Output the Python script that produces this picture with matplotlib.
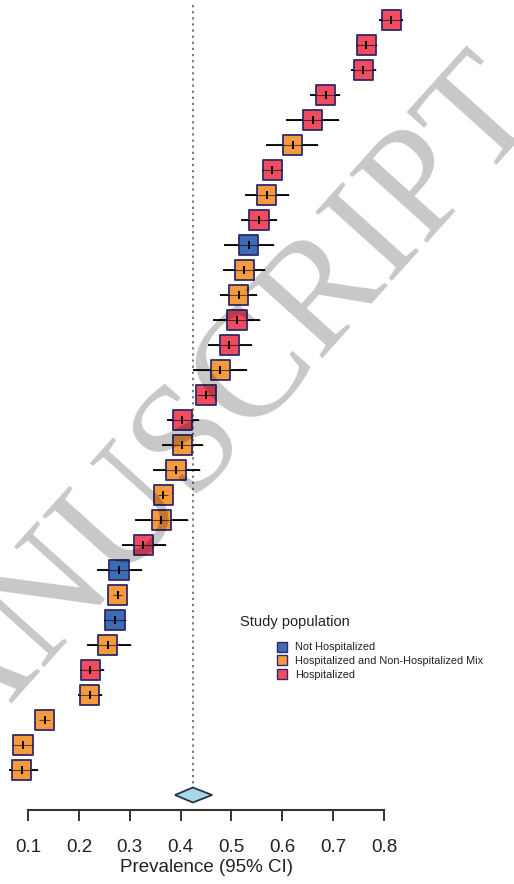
import numpy as np
import matplotlib
matplotlib.use("Agg")
import matplotlib.pyplot as plt
from matplotlib.lines import Line2D

plt.rcParams['font.family'] = ['Liberation Sans', 'DejaVu Sans']

# estimaciones por estudio (de arriba hacia abajo)
prev = [0.814, 0.765, 0.759, 0.685, 0.660, 0.620, 0.580, 0.569, 0.554, 0.534,
        0.525, 0.514, 0.511, 0.496, 0.478, 0.450, 0.403, 0.403, 0.391, 0.366,
        0.362, 0.327, 0.279, 0.276, 0.271, 0.257, 0.222, 0.221, 0.133, 0.090, 0.088]
lower = [0.790, 0.745, 0.735, 0.654, 0.607, 0.568, 0.560, 0.527, 0.519, 0.485,
         0.483, 0.478, 0.464, 0.454, 0.425, 0.432, 0.373, 0.364, 0.345, 0.356,
         0.311, 0.285, 0.236, 0.268, 0.250, 0.216, 0.202, 0.198, 0.122, 0.071, 0.063]
upper = [0.837, 0.786, 0.784, 0.713, 0.711, 0.670, 0.599, 0.613, 0.590, 0.583,
         0.566, 0.550, 0.556, 0.540, 0.531, 0.470, 0.436, 0.445, 0.438, 0.376,
         0.415, 0.371, 0.325, 0.284, 0.293, 0.302, 0.249, 0.246, 0.143, 0.110, 0.120]
group = ['H', 'H', 'H', 'H', 'H', 'M', 'H', 'M', 'H', 'N',
         'M', 'M', 'H', 'H', 'M', 'H', 'H', 'M', 'M', 'M',
         'M', 'H', 'N', 'M', 'N', 'M', 'H', 'M', 'M', 'M', 'M']

# estimación combinada
pooled, pooled_lo, pooled_hi = 0.424, 0.389, 0.462

group_names = {'N': 'Not Hospitalized',
               'M': 'Hospitalized and Non-Hospitalized Mix',
               'H': 'Hospitalized'}
group_colors = {'N': '#3d6cb5', 'M': '#f59a3d', 'H': '#f04b5e'}
edge = '#2f2a6a'

xticks = [0.1, 0.2, 0.3, 0.4, 0.5, 0.6, 0.7, 0.8]

fig = plt.figure(figsize=(5.14, 8.84), dpi=100)
ax = fig.add_axes([0, 0, 1, 1])
ax.set_xlim(0.0449, 1.0555)
ax.set_ylim(34.56, -0.8)

rows = np.arange(len(prev))
n = len(prev)

# línea de referencia punteada
ax.plot([pooled, pooled], [-0.6, n - 0.3], ls=(0, (1.5, 2.5)), color='#555555', lw=1.1, zorder=1)

# intervalos de confianza
ax.hlines(rows, lower, upper, color='black', lw=1.3, zorder=2)
# cuadros
cols = [group_colors[g] for g in group]
ax.scatter(prev, rows, s=190, marker='s', c=cols, edgecolors=edge, linewidths=1.3, zorder=3)
ax.scatter(prev, rows, s=30, marker='|', c='black', linewidths=1.4, zorder=4)
ax.hlines(rows, lower, upper, color='black', lw=0.8, alpha=0.6, zorder=4)

# diamante
ax.fill([pooled_lo, pooled, pooled_hi, pooled], [n, n - 0.3, n, n + 0.3],
        facecolor='#a6d8ea', edgecolor='#23364a', lw=1.3, zorder=3)

# eje x
for s in ['top', 'right', 'left']:
    ax.spines[s].set_visible(False)
ax.spines['bottom'].set_position(('data', n + 0.6))
ax.spines['bottom'].set_bounds(0.1, 0.8)
ax.spines['bottom'].set_linewidth(1.5)
ax.spines['bottom'].set_color('#333333')
ax.set_xticks(xticks)
ax.set_xticklabels([str(t) for t in xticks])
ax.tick_params(axis='x', direction='out', length=8, width=1.4, colors='#333333',
               labelsize=13.5, pad=13, labelcolor='#222222')
ax.set_yticks([])
ax.text(0.45, n + 2.92, 'Prevalence (95% CI)', ha='center', va='center', fontsize=13.5, color='#222222')

# leyenda
fig.text(240 / 514, 1 - 622 / 884, 'Study population', fontsize=10.5, va='center', ha='left', color='#222222')
handles = [Line2D([], [], marker='s', ls='', ms=7, markerfacecolor=group_colors[k],
                  markeredgecolor=edge, markeredgewidth=1.0, label=group_names[k])
           for k in ['N', 'M', 'H']]
fig.legend(handles=handles, loc='upper left', bbox_to_anchor=(270 / 514, 1 - 637 / 884),
           frameon=False, fontsize=7.8, handletextpad=0.6, labelspacing=0.35,
           borderpad=0, handlelength=1.2, labelcolor='#222222')

# marca de agua
fig.text(180 / 514, 1 - 455 / 884, 'MANUSCRIPT', rotation=48, fontsize=112,
         family='Liberation Serif', color='black', alpha=0.22, ha='center', va='center',
         rotation_mode='anchor', zorder=10)

fig.savefig('out.png', dpi=100)
